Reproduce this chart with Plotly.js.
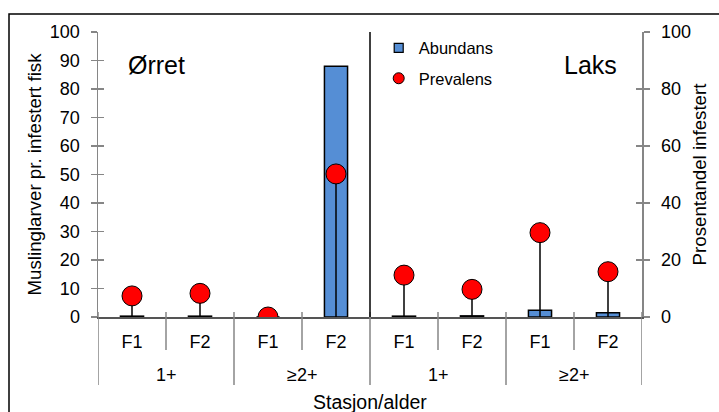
<!DOCTYPE html>
<html>
<head>
<meta charset="utf-8">
<script src="https://cdn.plot.ly/plotly-3.0.1.min.js"></script>
<style>html,body{margin:0;padding:0;background:#fff;}#chart{width:719px;height:412px;}</style>
</head>
<body>
<div id="chart"></div>
<script>
// Data
const ageGroups = ['1+', '1+', '≥2+', '≥2+', '1+', '1+', '≥2+', '≥2+'];
const stations  = ['F1', 'F2', 'F1', 'F2', 'F1', 'F2', 'F1', 'F2'];
const abundans  = [0.3, 0.3, 0, 88, 0.3, 0.4, 2.4, 1.5];
const prevalens = [7.4, 8.3, 0, 50.2, 14.7, 9.7, 29.6, 15.9];
const leftTicks  = [0, 10, 20, 30, 40, 50, 60, 70, 80, 90, 100];
const rightTicks = [0, 20, 40, 60, 80, 100];

const FONT = 'Liberation Sans, Arial, sans-serif';
const AXC = '#868686';
const idx = stations.map((_, i) => i);
const N = stations.length;

const traces = [
  {
    type: 'bar', name: 'Abundans', showlegend: false,
    x: idx, y: abundans,
    marker: {color: '#558ED5', line: {color: '#000', width: 1.5}},
    xaxis: 'x', yaxis: 'y', hoverinfo: 'y'
  },
  {
    type: 'scatter', mode: 'markers', name: 'Prevalens', showlegend: false,
    x: idx, y: prevalens,
    marker: {color: '#FF0000', size: 20, line: {color: '#000', width: 1}},
    error_y: {type: 'data', symmetric: false, array: prevalens.map(() => 0), arrayminus: prevalens,
              width: 0, thickness: 1.5, color: '#000'},
    xaxis: 'x', yaxis: 'y2'
  },
  // legend entries
  {type: 'scatter', mode: 'markers', name: 'Abundans', x: [null], y: [null], legendgroup: 'a',
   marker: {symbol: 'square', size: 9, color: '#558ED5', line: {color: '#000', width: 1.2}}},
  {type: 'scatter', mode: 'markers', name: 'Prevalens', x: [null], y: [null], legendgroup: 'b',
   marker: {symbol: 'circle', size: 11, color: '#FF0000', line: {color: '#000', width: 1}}},
  // overlay axes carrying the inward half of the crossing ticks
  {type: 'scatter', x: idx, y: idx.map(() => null), yaxis: 'y3', showlegend: false, hoverinfo: 'skip'},
  {type: 'scatter', x: idx, y: idx.map(() => null), yaxis: 'y4', showlegend: false, hoverinfo: 'skip'}
];

// category boundary decorations (ticks / dividers) under the x axis
const shapes = [];
const yTop = 5 / 285, yInner = -33 / 285, yOuter = -68 / 285;
for (let i = 0; i <= N; i++) {
  const outer = (i === 0 || i === N || ageGroups[i] !== ageGroups[i - 1]);
  shapes.push({type: 'line', xref: 'x', yref: 'paper', x0: i - 0.5, x1: i - 0.5,
               y0: yTop, y1: outer ? yOuter : yInner, line: {color: AXC, width: 1.5}});
}
// divider between Ørret and Laks
shapes.push({type: 'line', xref: 'x', yref: 'y', x0: N / 2 - 0.5, x1: N / 2 - 0.5, y0: -4, y1: 101.5,
             line: {color: '#000', width: 1.5}});
// outer frame
shapes.push({type: 'rect', xref: 'paper', yref: 'paper', x0: -0.1636, x1: 1.2, y0: -0.5, y1: 1.0632,
             line: {color: '#000', width: 1.5}, fillcolor: 'rgba(0,0,0,0)', layer: 'below'});

const annotations = [
  {xref: 'paper', yref: 'paper', x: 0.051, y: 0.885, xanchor: 'left', yanchor: 'middle',
   text: 'Ørret', showarrow: false, font: {size: 25, family: FONT}},
  {xref: 'paper', yref: 'paper', x: 0.957, y: 0.885, xanchor: 'right', yanchor: 'middle',
   text: 'Laks', showarrow: false, font: {size: 25, family: FONT}},
  {xref: 'paper', yref: 'paper', x: 0.5, y: -0.298, xanchor: 'center', yanchor: 'middle',
   text: 'Stasjon/alder', showarrow: false, font: {size: 19.5, family: FONT}}
];
// outer (age group) labels centred under their groups
let start = 0;
for (let i = 1; i <= N; i++) {
  if (i === N || ageGroups[i] !== ageGroups[start]) {
    annotations.push({xref: 'x', yref: 'paper', x: (start + i - 1) / 2, y: -0.2035,
                      xanchor: 'center', yanchor: 'middle', text: ageGroups[start], showarrow: false,
                      font: {size: 18, family: FONT}});
    start = i;
  }
}

const layout = {
  width: 719, height: 412,
  margin: {l: 98, r: 77, t: 32, b: 95},
  paper_bgcolor: '#fff', plot_bgcolor: 'rgba(0,0,0,0)',
  font: {family: FONT, size: 18, color: '#000'},
  showlegend: true,
  bargap: 0.66,
  legend: {x: 0.516, y: 1.005, xanchor: 'left', yanchor: 'top', bgcolor: 'rgba(0,0,0,0)',
           font: {size: 16.5, family: FONT}, traceorder: 'grouped', tracegroupgap: 6, itemwidth: 30},
  xaxis: {
    type: 'linear', range: [-0.5, N - 0.5], tickvals: idx, ticktext: stations,
    showline: true, linecolor: '#555', linewidth: 1.5, ticks: '', ticklabelstandoff: 8,
    tickfont: {size: 18}, showgrid: false, zeroline: false
  },
  yaxis: {
    range: [0, 100], tickvals: leftTicks, ticktext: leftTicks.map(String),
    showline: true, linecolor: AXC, linewidth: 1.5, ticks: 'outside', ticklen: 6, tickcolor: AXC, tickwidth: 1.5,
    ticklabelstandoff: 7, showgrid: false, zeroline: false, tickfont: {size: 18},
    title: {text: 'Muslinglarver pr. infestert fisk', font: {size: 18.7}, standoff: 3}
  },
  yaxis2: {
    range: [0, 100], tickvals: rightTicks, ticktext: rightTicks.map(String),
    overlaying: 'y', side: 'right', anchor: 'x',
    showline: true, linecolor: AXC, linewidth: 1.5, ticks: 'outside', ticklen: 6, tickcolor: AXC, tickwidth: 1.5,
    ticklabelstandoff: 8, showgrid: false, zeroline: false, tickfont: {size: 18},
    title: {text: 'Prosentandel infestert', font: {size: 18.7}, standoff: 3}
  },
  yaxis3: {
    range: [0, 100], tickvals: leftTicks, showticklabels: false, overlaying: 'y', side: 'left', anchor: 'x',
    ticks: 'inside', ticklen: 6, tickcolor: AXC, tickwidth: 1.5, showgrid: false, zeroline: false, showline: false
  },
  yaxis4: {
    range: [0, 100], tickvals: rightTicks, showticklabels: false, overlaying: 'y', side: 'right', anchor: 'x',
    ticks: 'inside', ticklen: 6, tickcolor: AXC, tickwidth: 1.5, showgrid: false, zeroline: false, showline: false
  },
  shapes: shapes,
  annotations: annotations
};

Plotly.newPlot('chart', traces, layout, {staticPlot: true});
</script>
</body>
</html>
